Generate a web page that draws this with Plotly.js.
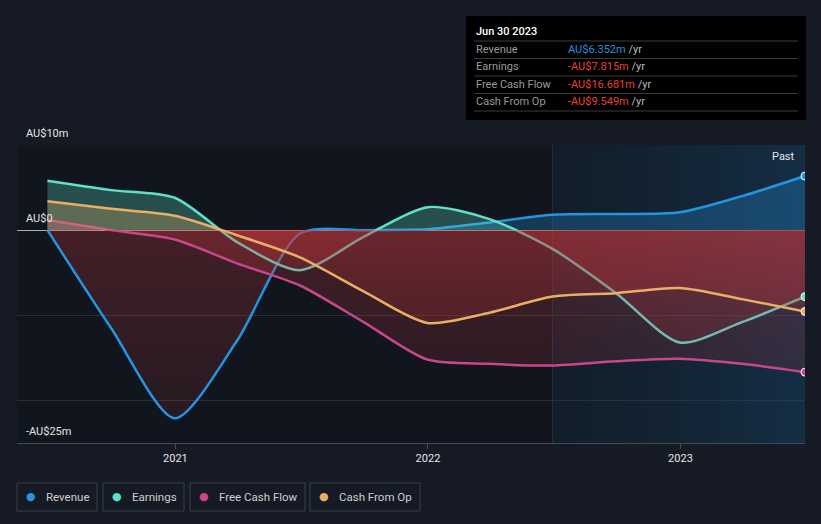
<!DOCTYPE html>
<html>
<head>
<meta charset="utf-8">
<script src="https://cdn.plot.ly/plotly-3.0.1.min.js"></script>
<style>
  html, body { margin: 0; padding: 0; background: #151a24; }
  #chart { width: 821px; height: 524px; }
</style>
</head>
<body>
<div id="chart"></div>
<script>
// ---- data (AU$ millions) ----
const dates = ['2020-06-30','2020-09-30','2020-12-31','2021-03-31','2021-06-30','2021-09-30','2021-12-31',
               '2022-03-31','2022-06-30','2022-09-30','2022-12-31','2023-03-31','2023-06-30'];
const revenue       = [0, -11.5, -22.1, -13.0, -0.4, 0.0, 0.1, 0.9, 1.8, 1.9, 2.1, 4.0, 6.352];
const earnings      = [5.8, 4.7, 3.8, -1.4, -4.7, -0.8, 2.7, 1.3, -2.2, -7.4, -13.2, -10.8, -7.815];
const freeCashFlow  = [1.2, 0.0, -1.1, -3.9, -6.5, -10.8, -15.2, -15.7, -15.9, -15.4, -15.1, -15.7, -16.681];
const cashFromOp    = [3.4, 2.5, 1.7, -0.6, -3.2, -7.2, -10.9, -9.7, -7.8, -7.4, -6.8, -8.1, -9.549];

const seriesNames  = ['Revenue', 'Earnings', 'Free Cash Flow', 'Cash From Op'];
const seriesColors = ['#2394df', '#5fe0c9', '#c8468a', '#e8b064'];
const seriesRGB    = ['35,148,223', '95,224,201', '200,70,138', '232,176,100'];
const seriesData   = [revenue, earnings, freeCashFlow, cashFromOp];

const pastStart = '2022-06-30';
const pastEnd   = '2023-06-30';
const xRange    = ['2020-05-17', '2023-06-30'];
const yRange    = [-25, 10];
const yTickVals = [10, 0, -25];
const yTickText = ['AU$10m', 'AU$0', '-AU$25m'];
const xTickVals = ['2021-01-01', '2022-01-01', '2023-01-01'];
const xTickText = ['2021', '2022', '2023'];

const tipTitle  = 'Jun 30 2023';
const tipLabels = ['Revenue', 'Earnings', 'Free Cash Flow', 'Cash From Op'];
const tipValues = ['AU$6.352m', '-AU$7.815m', '-AU$16.681m', '-AU$9.549m'];
const tipColors = ['#2394df', '#e8413e', '#e8413e', '#e8413e'];

// ---- layout geometry helpers (pixel -> paper) ----
const W = 821, H = 524;
const M = { l: 17, r: 16, t: 145, b: 81 };
const PW = W - M.l - M.r, PH = H - M.t - M.b;
const px = x => (x - M.l) / PW;
const py = y => (H - M.b - y) / PH;

const FONT = 'Roboto, "Open Sans", sans-serif';
const traces = [];

// "Past" region
traces.push({
  x: [pastStart, pastStart, pastEnd, pastEnd],
  y: [yRange[0], yRange[1], yRange[1], yRange[0]],
  mode: 'lines', line: { width: 0 }, fill: 'toself',
  fillgradient: { type: 'horizontal', colorscale: [[0, 'rgba(20,50,75,0.25)'], [1, 'rgba(25,75,115,0.45)']] },
  hoverinfo: 'skip', showlegend: false
});

// zero position in gradient
const z0 = (0 - yRange[0]) / (yRange[1] - yRange[0]);
seriesData.forEach((vals, i) => {
  traces.push({
    x: dates, y: vals, name: seriesNames[i],
    mode: 'lines', line: { color: seriesColors[i], width: 2.5, shape: 'spline', smoothing: 0.75 },
    fill: 'tozeroy',
    fillgradient: {
      type: 'vertical', start: yRange[0], stop: yRange[1],
      colorscale: [
        [0, 'rgba(170,45,55,0.12)'],
        [z0 - 0.001, 'rgba(200,55,60,0.28)'],
        [z0 + 0.001, 'rgba(' + seriesRGB[i] + ',0.28)'],
        [1, 'rgba(' + seriesRGB[i] + ',0.28)']
      ]
    },
    hoverinfo: 'skip', showlegend: false
  });
});
// end markers
seriesData.forEach((vals, i) => {
  traces.push({
    x: [dates[dates.length - 1]], y: [vals[vals.length - 1]],
    mode: 'markers',
    marker: { color: seriesColors[i], size: 8, line: { color: '#ffffff', width: 1 } },
    hoverinfo: 'skip', showlegend: false
  });
});

const shapes = [
  { type: 'line', xref: 'x', yref: 'paper', x0: pastStart, x1: pastStart, y0: 0, y1: 1,
    line: { color: 'rgba(70,90,110,0.35)', width: 1 }, layer: 'below' },
  // tooltip box
  { type: 'rect', xref: 'paper', yref: 'paper', x0: px(466), x1: px(806), y0: py(120), y1: py(16),
    fillcolor: '#000000', line: { width: 0 } }
];
const annotations = [];

// y labels
yTickVals.forEach((v, i) => {
  const ypix = M.t + (yRange[1] - v) / (yRange[1] - yRange[0]) * PH;
  annotations.push({ xref: 'paper', yref: 'paper', x: px(24), y: py(ypix - 12), text: yTickText[i],
    showarrow: false, xanchor: 'left', yanchor: 'middle', font: { family: FONT, size: 11, color: '#e6e6e6' } });
});
annotations.push({ xref: 'paper', yref: 'paper', x: px(797), y: py(156), text: 'Past', showarrow: false,
  xanchor: 'right', yanchor: 'middle', font: { family: FONT, size: 11, color: '#e6e6e6' } });

// tooltip content
annotations.push({ xref: 'paper', yref: 'paper', x: px(474), y: py(31), text: tipTitle, showarrow: false,
  xanchor: 'left', yanchor: 'middle', font: { family: FONT, size: 11, color: '#ffffff', weight: 500 } });
const rowY = [49, 66, 84, 101];
const sepY = [41, 58.5, 76, 93.5, 111];
sepY.forEach(y => shapes.push({ type: 'line', xref: 'paper', yref: 'paper', x0: px(474), x1: px(798),
  y0: py(y), y1: py(y), line: { color: '#3a3a3a', width: 1 } }));
tipLabels.forEach((lab, i) => {
  annotations.push({ xref: 'paper', yref: 'paper', x: px(474), y: py(rowY[i]), text: lab, showarrow: false,
    xanchor: 'left', yanchor: 'middle', font: { family: FONT, size: 11, color: '#9a9a9a' } });
  annotations.push({ xref: 'paper', yref: 'paper', x: px(566), y: py(rowY[i]),
    text: '<span style="color:' + tipColors[i] + '">' + tipValues[i] + '</span> /yr', showarrow: false,
    xanchor: 'left', yanchor: 'middle', font: { family: FONT, size: 11, color: '#bdbdbd' } });
});

// legend
const legBoxes = [[17, 97], [103, 184], [190, 305], [310, 420]];
legBoxes.forEach((b, i) => {
  shapes.push({ type: 'rect', xref: 'paper', yref: 'paper', x0: px(b[0]), x1: px(b[1]), y0: py(511), y1: py(483),
    line: { color: '#3a404a', width: 1 }, fillcolor: 'rgba(0,0,0,0)' });
  annotations.push({ xref: 'paper', yref: 'paper', x: px(b[0] + 14), y: py(496.5), text: '●', showarrow: false,
    xanchor: 'center', yanchor: 'middle', font: { family: 'DejaVu Sans', size: 11, color: seriesColors[i] } });
  annotations.push({ xref: 'paper', yref: 'paper', x: px(b[0] + 27), y: py(496.5), text: seriesNames[i], showarrow: false,
    xanchor: 'left', yanchor: 'middle', font: { family: FONT, size: 11.5, color: '#cfcfcf' } });
});

const layout = {
  width: W, height: H,
  margin: M,
  paper_bgcolor: '#151a24',
  plot_bgcolor: '#11161e',
  font: { family: FONT, color: '#e0e0e0' },
  showlegend: false,
  xaxis: {
    type: 'date', range: xRange, tickvals: xTickVals, ticktext: xTickText,
    showgrid: false, zeroline: false, showline: true, linecolor: '#464c56', linewidth: 1,
    ticks: 'outside', ticklen: 5, tickcolor: '#464c56', tickfont: { family: FONT, size: 11, color: '#e6e6e6' },
    fixedrange: true
  },
  yaxis: {
    range: yRange, tickvals: [10, -10, -20], showticklabels: false, ticks: '',
    showgrid: true, gridcolor: '#2a2f38', gridwidth: 1,
    zeroline: true, zerolinecolor: 'rgba(225,225,225,0.75)', zerolinewidth: 1,
    showline: false, fixedrange: true
  },
  shapes: shapes,
  annotations: annotations
};

Plotly.newPlot('chart', traces, layout, { displayModeBar: false, staticPlot: true });
</script>
</body>
</html>
